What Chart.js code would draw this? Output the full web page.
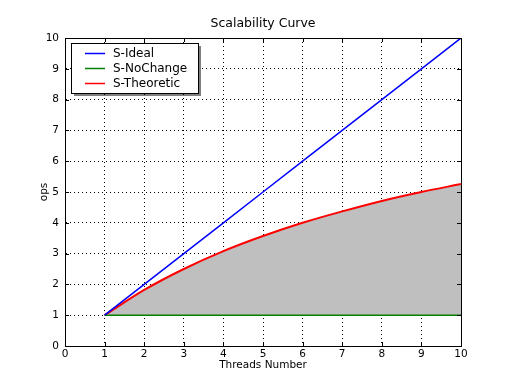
<!DOCTYPE html>
<html>
<head>
<meta charset="utf-8">
<script src="https://cdn.jsdelivr.net/npm/chart.js@4"></script>
<style>
  html, body { margin: 0; padding: 0; background: #fff; }
  #wrap { width: 512px; height: 384px; }
</style>
</head>
<body>
<div id="wrap"><canvas id="myChart" width="512" height="384"></canvas></div>
<script>
// values
const threads = [1, 2, 3, 4, 5, 6, 7, 8, 9, 10];
const ideal = [1, 2, 3, 4, 5, 6, 7, 8, 9, 10];
const noChange = [1, 1, 1, 1, 1, 1, 1, 1, 1, 1];
const theoretic = [1, 1.82, 2.5, 3.08, 3.57, 4.0, 4.37, 4.71, 5.0, 5.26];
const axisTicks = [0, 1, 2, 3, 4, 5, 6, 7, 8, 9, 10];

const pts = ys => threads.map((x, i) => ({x: x, y: ys[i]}));
Chart.defaults.font.family = 'DejaVu Sans';
Chart.defaults.color = '#000';

// box on four sides, inward ticks, titles and legend, like matplotlib
const frame = {
  id: 'frame',
  afterDraw(chart) {
    const {ctx, chartArea: a, scales} = chart;
    ctx.save();
    ctx.strokeStyle = '#000';
    ctx.lineWidth = 1;
    ctx.beginPath();
    axisTicks.forEach(v => {
      const px = Math.round(scales.x.getPixelForValue(v)) + 0.5;
      const py = Math.round(scales.y.getPixelForValue(v)) + 0.5;
      ctx.moveTo(px, a.bottom); ctx.lineTo(px, a.bottom - 4);
      ctx.moveTo(px, a.top); ctx.lineTo(px, a.top + 4);
      ctx.moveTo(a.left, py); ctx.lineTo(a.left + 4, py);
      ctx.moveTo(a.right, py); ctx.lineTo(a.right - 4, py);
    });
    ctx.stroke();
    ctx.strokeRect(a.left + 0.5, a.top + 0.5, a.right - a.left, a.bottom - a.top);

    // titles
    const cx = (a.left + a.right) / 2;
    ctx.fillStyle = '#000';
    ctx.textAlign = 'center';
    ctx.textBaseline = 'middle';
    ctx.font = '12.5px DejaVu Sans';
    ctx.fillText('Scalability Curve', cx, 24);
    ctx.font = '10.5px DejaVu Sans';
    ctx.fillText('Threads Number', cx, 365);
    ctx.save();
    ctx.translate(44, (a.top + a.bottom) / 2);
    ctx.rotate(-Math.PI / 2);
    ctx.fillText('ops', 0, 0);
    ctx.restore();

    // legend with shadow
    const bx = 71, by = 43, bw = 127, bh = 50;
    ctx.fillStyle = 'rgba(0,0,0,0.5)';
    ctx.fillRect(bx + 3, by + 3, bw, bh);
    ctx.fillStyle = '#fff';
    ctx.fillRect(bx, by, bw, bh);
    ctx.strokeRect(bx + 0.5, by + 0.5, bw, bh);
    ctx.font = '12px DejaVu Sans';
    ctx.textAlign = 'left';
    chart.data.datasets.forEach((ds, i) => {
      const y = by + 10.5 + i * 15;
      ctx.strokeStyle = ds.borderColor;
      ctx.lineWidth = 1.5;
      ctx.beginPath(); ctx.moveTo(85, y); ctx.lineTo(105, y); ctx.stroke();
      ctx.fillStyle = '#000';
      ctx.fillText(ds.label, 113, y);
    });
    ctx.restore();
  }
};

const ctx = document.getElementById('myChart').getContext('2d');
const chart = new Chart(ctx, {
  type: 'line',
  data: {
    datasets: [
      {label: 'S-Ideal', data: pts(ideal), borderColor: '#0000ff', borderWidth: 1.5, pointRadius: 0, fill: false},
      {label: 'S-NoChange', data: pts(noChange), borderColor: '#008000', borderWidth: 1.5, pointRadius: 0, fill: false},
      {label: 'S-Theoretic', data: pts(theoretic), borderColor: '#ff0000', borderWidth: 2, pointRadius: 0,
       cubicInterpolationMode: 'monotone', fill: {target: 1}, backgroundColor: '#bfbfbf'}
    ]
  },
  options: {
    responsive: false,
    animation: false,
    layout: {padding: {left: 0, right: 51, top: 38, bottom: 0}},
    plugins: {
      legend: {display: false},
      tooltip: {enabled: false},
      title: {display: false}
    },
    scales: {
      x: {
        type: 'linear', min: 0, max: 10,
        afterBuildTicks: s => { s.ticks = axisTicks.map(v => ({value: v})); },
        afterFit: s => { s.height = 38; },
        ticks: {font: {size: 10.5}, padding: 2, maxRotation: 0},
        grid: {color: '#000', lineWidth: 1, drawTicks: false},
        border: {display: true, color: '#000', dash: [1, 3]}
      },
      y: {
        type: 'linear', min: 0, max: 10,
        afterBuildTicks: s => { s.ticks = axisTicks.map(v => ({value: v})); },
        afterFit: s => { s.width = 65; },
        ticks: {font: {size: 10.5}, padding: 6},
        grid: {color: '#000', lineWidth: 1, drawTicks: false},
        border: {display: true, color: '#000', dash: [1, 3]}
      }
    }
  },
  plugins: [frame]
});
</script>
</body>
</html>
